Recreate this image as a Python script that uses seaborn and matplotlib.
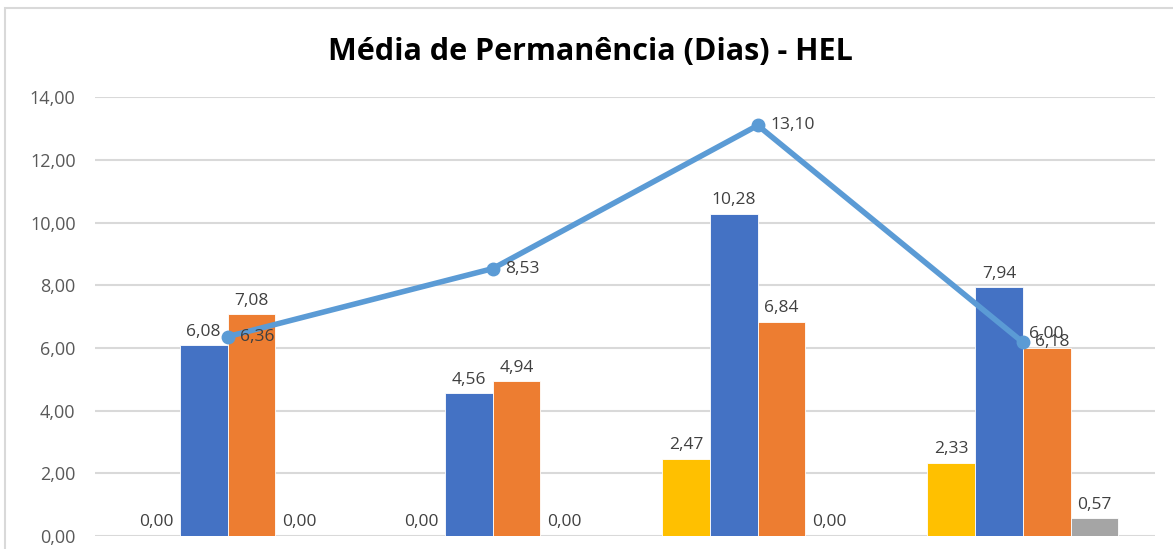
import pandas as pd
import matplotlib.pyplot as plt
import seaborn as sns
from matplotlib.patches import Rectangle

# data
grupos = ["G1", "G2", "G3", "G4"]
series = ["Série 1", "Série 2", "Série 3", "Série 4"]
serie_1 = [0.00, 0.00, 2.47, 2.33]
serie_2 = [6.08, 4.56, 10.28, 7.94]
serie_3 = [7.08, 4.94, 6.84, 6.00]
serie_4 = [0.00, 0.00, 0.00, 0.57]
media = [6.36, 8.53, 13.10, 6.18]
yticks = [0, 2, 4, 6, 8, 10, 12, 14]

cores = ["#FFC000", "#4472C4", "#ED7D31", "#A5A5A5"]
cor_linha = "#5B9BD5"

df = pd.DataFrame({
    "grupo": grupos * 4,
    "serie": [s for s in series for _ in grupos],
    "valor": serie_1 + serie_2 + serie_3 + serie_4,
})

sns.set_style("white")
plt.rcParams["font.family"] = ["Open Sans", "DejaVu Sans"]

fig = plt.figure(figsize=(11.73, 5.49), dpi=100)
ax = fig.add_axes([0.081, 0.0237, 0.904, 0.7993])

# chart frame
fig.patches.append(Rectangle((5 / 1173, -0.1), 1.2, (549 - 8) / 549 + 0.1,
                             transform=fig.transFigure, fill=False,
                             edgecolor="#D9D9D9", linewidth=1.5))

sns.barplot(data=df, x="grupo", y="valor", hue="serie", order=grupos,
            hue_order=series, palette=cores, width=0.72, saturation=1,
            edgecolor="white", linewidth=0.6, legend=False, ax=ax)

for cont in ax.containers:
    ax.bar_label(cont, labels=[f"{v:.2f}".replace(".", ",") for v in cont.datavalues],
                 padding=4, fontsize=12.5, color="#404040")

ax.plot(range(len(grupos)), media, color=cor_linha, linewidth=4,
        marker="o", markersize=9, zorder=5, solid_capstyle="round")
for i, v in enumerate(media):
    ax.annotate(f"{v:.2f}".replace(".", ","), (i, v), xytext=(9, 0),
                textcoords="offset points", va="center", ha="left",
                fontsize=12.5, color="#404040", zorder=6)

ax.set_xlim(-0.5, 3.5)
ax.set_ylim(0, 14)
ax.set_yticks(yticks)
ax.set_yticklabels([f"{t:.2f}".replace(".", ",") for t in yticks],
                   fontsize=13, color="#595959")
ax.tick_params(axis="y", length=0, pad=14)
ax.set_xticks([])
ax.set_xlabel("")
ax.set_ylabel("")
ax.yaxis.grid(True, color="#D9D9D9", linewidth=1.5)
ax.set_axisbelow(True)
for s in ax.spines.values():
    s.set_visible(False)

fig.text(0.503, 0.905, "Média de Permanência (Dias) - HEL", ha="center",
         va="center", fontsize=22, fontweight="bold", color="black")

fig.savefig("out.png", dpi=100)
